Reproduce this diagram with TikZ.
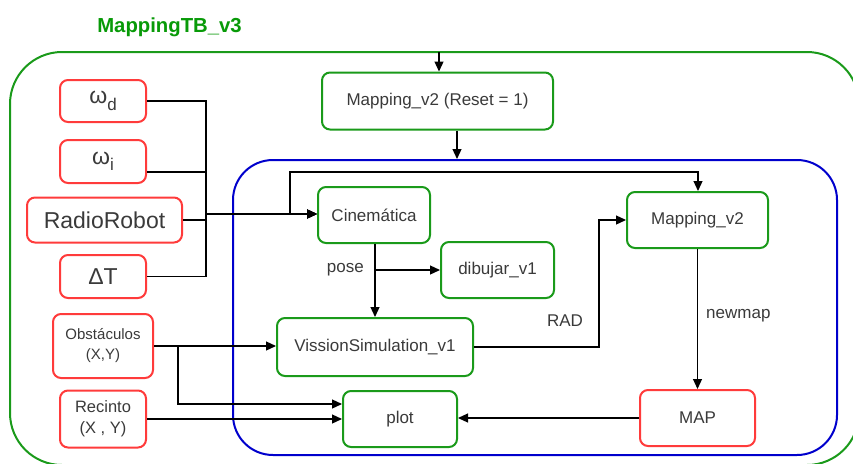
\documentclass[tikz,border=0pt]{standalone}
\usepackage{fontspec}
\setmainfont{Liberation Sans}
\usetikzlibrary{arrows.meta}
\definecolor{gline}{HTML}{1A9A1A}
\definecolor{rline}{HTML}{FF3B3B}
\definecolor{bline}{HTML}{0000CC}
\definecolor{txt}{HTML}{3A3A3A}
\definecolor{ttl}{HTML}{089A08}
\tikzset{
  box/.style={draw, line width=2pt, rounded corners=8pt, fill=white, text=txt,
    align=center, inner sep=0pt, font=\fontsize{17}{19}\selectfont},
  gbox/.style={box, draw=gline},
  rbox/.style={box, draw=rline},
  conn/.style={draw=black, line width=1.2pt},
  arr/.style={conn, -{Triangle[length=10pt,width=9pt]}},
  lbl/.style={text=txt, inner sep=0pt, font=\fontsize{17}{19}\selectfont},
}
\newcommand{\bigsym}[2]{{\fontsize{23}{26}\selectfont #1\raisebox{-0.28em}{\fontsize{17}{19}\selectfont #2}}}
\begin{document}
\begin{tikzpicture}[x=1pt, y=-1pt]
\useasboundingbox (0,0) rectangle (853,463);
\clip (0,0) rectangle (853,463);

% title and outer subsystem frame
\node[text=ttl, font=\bfseries\fontsize{20.3}{22}\selectfont, inner sep=0pt] (title) at (169.5,27) {MappingTB\_v3};
\draw[draw=gline, line width=2pt, rounded corners=52pt] (10,52) rectangle (859,465);

% inner subsystem frame
\node[draw=bline, line width=2pt, rounded corners=40pt, minimum width=604pt, minimum height=295pt, inner sep=0pt] (inner) at (535,307.5) {};

% input blocks
\node[rbox, minimum width=86pt, minimum height=42pt] (wd) at (103,101) {\bigsym{ω}{d}};
\node[rbox, minimum width=86pt, minimum height=43pt] (wi) at (103,161.5) {\bigsym{ω}{i}};
\node[rbox, minimum width=155pt, minimum height=45pt, font=\fontsize{23}{26}\selectfont] (rr) at (104.5,220) {RadioRobot};
\node[rbox, minimum width=86pt, minimum height=43pt, font=\fontsize{23}{26}\selectfont] (dT) at (103,276.5) {ΔT};
\node[rbox, minimum width=100pt, minimum height=64pt, font=\fontsize{15}{20}\selectfont] (obs) at (103,346) {Obstáculos\\(X,Y)};
\node[rbox, minimum width=86pt, minimum height=57pt, font=\fontsize{16.5}{21}\selectfont] (rec) at (103,419) {Recinto\\(X , Y)};

% processing blocks
\node[gbox, minimum width=231pt, minimum height=57pt] (mr) at (437.5,101) {Mapping\_v2 (Reset = 1)};
\node[gbox, minimum width=112pt, minimum height=56pt] (cin) at (374,215) {Cinemática};
\node[gbox, minimum width=113pt, minimum height=56pt] (dib) at (497.5,270) {dibujar\_v1};
\node[gbox, minimum width=196pt, minimum height=58pt] (vs) at (375,347) {VissionSimulation\_v1};
\node[gbox, minimum width=114pt, minimum height=56pt] (plot) at (400,419) {plot};
\node[gbox, minimum width=141pt, minimum height=56pt] (map2) at (697.5,220) {Mapping\_v2};
\node[rbox, minimum width=115pt, minimum height=56pt] (map) at (697.5,418) {MAP};

% helper points
\coordinate (bus) at (206,214);
\coordinate (top) at (439,52);
\coordinate (tap) at (290,214);
\coordinate (ps) at (375,270);
\coordinate (ob) at (178,346);
\coordinate (rad) at (599,347);

% inputs into the kinematics block
\draw[arr] (wd.east) -- (wd.east -| bus) -- (bus) -- (cin.west |- bus);
\draw[arr] ([yshift=-10.5pt]wi.east) -- ([yshift=-10.5pt]wi.east -| bus) -- (bus) -- (cin.west |- bus);
\draw[arr] (rr.east) -- (rr.east -| bus) -- (bus) -- (cin.west |- bus);
\draw[arr] (dT.east) -- (dT.east -| bus) -- (bus) -- (cin.west |- bus);
\draw[arr] (rr.east) -- (rr.east -| bus) -- (bus) -- (tap) -- (290,172) -- (698,172) -- (698,172 |- map2.north);

% reset path
\draw[arr] (top) -- (top |- mr.north);
\draw[arr] ([xshift=19.5pt]mr.south) -- ([xshift=19.5pt]mr.south |- inner.north);

% pose
\draw[arr] (cin.south -| ps) -- (ps) -- (ps |- vs.north);
\draw[arr] (ps) -- (dib.west |- ps);
\node[lbl, anchor=east] (poselbl) at (364,270) {pose};

% obstacles and enclosure
\draw[arr] (obs.east) -- (vs.west |- obs.east);
\draw[arr] (obs.east) -- (ob) -- (178,404) -- (plot.west |- 0,404);
\draw[arr] (rec.east) -- (plot.west |- rec.east);

% RAD
\draw[arr] (vs.east) -- (rad) -- (rad |- map2.west) -- (map2.west);
\node[lbl] (radlbl) at (565,321) {RAD};

% new map
\draw[arr] (map2.south) -- (map.north);
\node[lbl, anchor=west] (nmlbl) at (706,316) {newmap};
\draw[arr] (map.west) -- (plot.east |- map.west);
\end{tikzpicture}
\end{document}
